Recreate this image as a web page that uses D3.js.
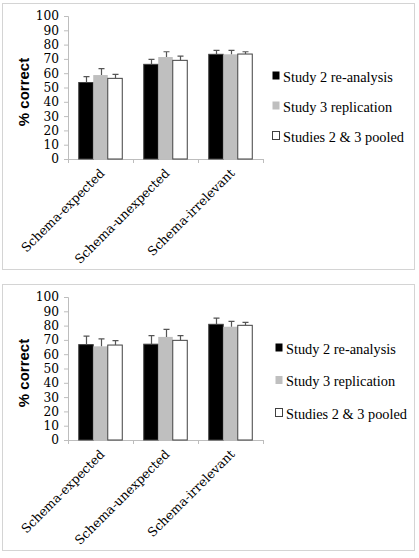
<!DOCTYPE html>
<html>
<head>
  <meta charset="utf-8">
  <title>% correct by schema condition</title>
  <script src="https://d3js.org/d3.v7.min.js"></script>
  <style>
    html, body { margin: 0; background: #fff; overflow: hidden; }
  </style>
</head>
<body>
  <div id="chart"></div>
  <script>
    // categories and series
    const categories = ['Schema-expected', 'Schema-unexpected', 'Schema-irrelevant'];
    const series = ['Study 2 re-analysis', 'Study 3 replication', 'Studies 2 & 3 pooled'];
    const yTicks = [0, 10, 20, 30, 40, 50, 60, 70, 80, 90, 100];

    // top panel: means and upper error bar ends, per series
    const topMeans = [
      [53.5, 66.2, 73.2],
      [58.7, 71.3, 73.2],
      [56.4, 69.0, 73.4]
    ];
    const topErrTops = [
      [57.6, 69.7, 76.0],
      [63.2, 75.0, 76.0],
      [59.2, 72.0, 75.0]
    ];

    // bottom panel
    const bottomMeans = [
      [66.7, 67.0, 80.9],
      [65.5, 72.1, 79.2],
      [66.4, 69.7, 80.2]
    ];
    const bottomErrTops = [
      [72.6, 73.0, 85.2],
      [70.7, 77.4, 83.0],
      [69.5, 73.0, 82.3]
    ];

    const fills = ['#000000', '#bfbfbf', '#ffffff'];
    const strokes = ['#404040', 'none', '#404040'];
    const serif = '"DejaVu Serif", serif';

    const svg = d3.select('#chart')
      .append('svg')
      .attr('width', 419)
      .attr('height', 558);

    svg.append('rect').attr('width', 419).attr('height', 558).attr('fill', '#fff');

    function drawPanel(top, means, errTops, legendY, legendGap, legendX) {
      const g = svg.append('g');

      // frame
      g.append('rect')
        .attr('x', 2.5).attr('y', top + 0.5)
        .attr('width', 412).attr('height', 266)
        .attr('fill', 'none')
        .attr('stroke', '#d4d4d4');

      const y0 = top + 156, y1 = top + 13;
      const x = d3.scaleBand().domain(categories).range([68, 263]).paddingInner(0).paddingOuter(0);
      const y = d3.scaleLinear().domain([0, 100]).range([y0, y1]);
      const xs = d3.scaleBand().domain(series).range([0, x.bandwidth()]).paddingOuter(0.74).paddingInner(0);

      // y axis
      const yAxis = g.append('g')
        .attr('transform', 'translate(68,0)')
        .call(d3.axisLeft(y).tickValues(yTicks).tickSize(4).tickPadding(5));
      yAxis.select('.domain').attr('stroke', '#bdbdbd');
      yAxis.selectAll('.tick line').attr('stroke', '#bdbdbd');
      yAxis.selectAll('.tick text')
        .style('font-family', serif)
        .style('font-size', '12.2px')
        .attr('fill', '#000');

      // x axis
      const xAxis = g.append('g')
        .attr('transform', `translate(0,${y0})`)
        .call(d3.axisBottom(x).tickSize(0).tickFormat(''));
      xAxis.select('.domain').attr('stroke', '#bdbdbd');
      xAxis.selectAll('.tick').remove();
      g.selectAll('.xtick')
        .data([68, 68 + x.bandwidth(), 68 + 2 * x.bandwidth(), 263])
        .enter().append('line')
        .attr('x1', d => d + 0.5).attr('x2', d => d + 0.5)
        .attr('y1', y0).attr('y2', y0 + 4)
        .attr('stroke', '#bdbdbd');

      g.selectAll('.xlabel')
        .data(categories)
        .enter().append('text')
        .attr('text-anchor', 'end')
        .style('font-family', serif)
        .style('font-size', '12.5px')
        .attr('transform', d => `translate(${x(d) + x.bandwidth() / 2 + 5},${y0 + 15}) rotate(-45)`)
        .text(d => d);

      // bars
      series.forEach((s, si) => {
        const sg = g.append('g');
        sg.selectAll('rect')
          .data(categories)
          .enter().append('rect')
          .attr('x', d => x(d) + xs(s))
          .attr('y', (d, i) => y(means[si][i]))
          .attr('width', xs.bandwidth())
          .attr('height', (d, i) => y0 - y(means[si][i]))
          .attr('fill', fills[si])
          .attr('stroke', strokes[si])
          .attr('stroke-width', 1);

        // error bars (upper only)
        sg.selectAll('.err')
          .data(categories)
          .enter().append('path')
          .attr('d', (d, i) => {
            const cx = Math.round(x(d) + xs(s) + xs.bandwidth() / 2) + 0.5;
            const t = y(errTops[si][i]);
            return `M${cx},${y(means[si][i])}V${t}M${cx - 3},${t}H${cx + 3}`;
          })
          .attr('fill', 'none')
          .attr('stroke', '#555')
          .attr('stroke-width', 1.2);
      });

      // y title
      g.append('text')
        .attr('transform', `translate(29,${top + 89}) rotate(-90)`)
        .attr('text-anchor', 'middle')
        .style('font-family', '"Liberation Sans", Arial, sans-serif')
        .style('font-weight', 'bold')
        .style('font-size', '15px')
        .text('% correct');

      // legend
      const lg = g.selectAll('.legend')
        .data(series)
        .enter().append('g')
        .attr('transform', (d, i) => `translate(${legendX},${legendY + i * legendGap})`);
      lg.append('rect')
        .attr('x', 0.5).attr('y', -4.5)
        .attr('width', 7).attr('height', 8)
        .attr('fill', (d, i) => fills[i])
        .attr('stroke', (d, i) => i === 2 ? '#404040' : 'none');
      const lt = lg.append('text')
        .attr('x', 11)
        .attr('y', 5.5)
        .style('font-family', '"Liberation Serif", serif')
        .style('font-size', '15.5px')
        .text(d => d);
      // widen the glyphs so the longest entry spans ~121px as in the figure
      const widest = d3.max(lt.nodes(), n => n.getComputedTextLength());
      const k = 121 / widest;
      lt.each(function () {
        d3.select(this)
          .attr('textLength', this.getComputedTextLength() * k)
          .attr('lengthAdjust', 'spacingAndGlyphs');
      });
    }

    drawPanel(3, topMeans, topErrTops, 76, 30, 272);
    drawPanel(284, bottomMeans, bottomErrTops, 348, 32.5, 275);
  </script>
</body>
</html>
